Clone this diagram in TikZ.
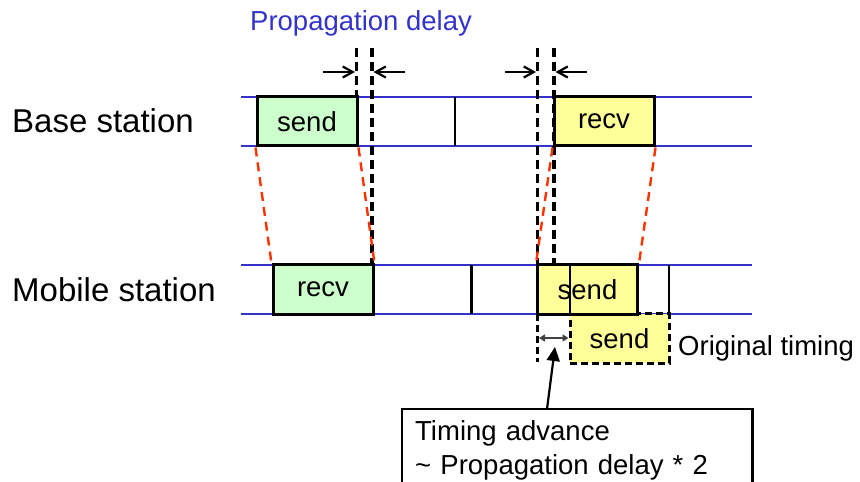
\documentclass[tikz,border=0pt]{standalone}
\usepackage{fontspec}
\setmainfont{Liberation Sans}
\usetikzlibrary{arrows.meta,calc}
\definecolor{lineblue}{HTML}{3333CC}
\definecolor{sigred}{HTML}{FF3300}
\definecolor{sendgreen}{HTML}{CCFFCC}
\definecolor{slotyellow}{HTML}{FFFF99}
\definecolor{tagray}{HTML}{404040}
\newcommand{\bigfont}{\fontsize{33bp}{38bp}\selectfont}
\newcommand{\midfont}{\fontsize{27.5bp}{32bp}\selectfont}
\begin{document}
\begin{tikzpicture}[x=1bp,y=-1bp,
  slotbox/.style={draw=black, line width=3bp, minimum width=100bp, minimum height=49bp, inner sep=0pt, font=\midfont},
  timeline/.style={draw=lineblue, line width=2.6bp},
  guide/.style={draw=black, line width=3.2bp, dash pattern=on 9bp off 5bp},
  signal/.style={draw=sigred, line width=2.4bp, dash pattern=on 9bp off 6bp},
  slotsep/.style={draw=black, line width=2.8bp},
  delayarrow/.style={draw=black, line width=2.2bp, -{Straight Barb[length=10bp,width=11bp]}},
  rowlabel/.style={inner sep=0pt, font=\bigfont},
  plaintext/.style={inner sep=0pt, font=\midfont},
]
\useasboundingbox (0,0) rectangle (860,482);
\clip (0,0) rectangle (860,482);

% time lines
\coordinate (bt1) at (241,97);  \coordinate (bt2) at (752,97);
\coordinate (bb1) at (241,146); \coordinate (bb2) at (752,146);
\coordinate (mt1) at (241,265); \coordinate (mt2) at (752,265);
\coordinate (mb1) at (241,314); \coordinate (mb2) at (752,314);
\draw[timeline] (bt1) -- (bt2);
\draw[timeline] (bb1) -- (bb2);
\draw[timeline] (mt1) -- (mt2);
\draw[timeline] (mb1) -- (mb2);

% row labels
\node[rowlabel, anchor=west] (base) at (12,121) {Base station};
\node[rowlabel, anchor=west] (mobile) at (12,290) {Mobile station};
\node[plaintext, anchor=base west, text=lineblue] (prop) at (250,31) {Propagation delay};

% slot separators
\coordinate (bs1t) at (455,97);  \coordinate (bs1b) at (455,146);
\coordinate (ms1t) at (471.5,265); \coordinate (ms1b) at (471.5,314);
\coordinate (ms2t) at (669,265); \coordinate (ms2b) at (669,314);
\draw[slotsep] (bs1t) -- (bs1b);
\draw[slotsep] (ms1t) -- (ms1b);
\draw[slotsep] (ms2t) -- (ms2b);

% original timing box
\node[slotbox, fill=slotyellow, dash pattern=on 7bp off 4bp, minimum width=99bp] (osend) at (619.5,338.5) {send};
\coordinate (tal1) at (537.5,314); \coordinate (tal2) at (537.5,362);
\draw[black, line width=3bp, dash pattern=on 7bp off 4bp] (tal1) -- (tal2);

% slot boxes
\node[slotbox, fill=sendgreen] (bsend) at (307,121.5) {send};
\node[slotbox, fill=slotyellow] (brecv) at (604,121.5) {recv};
\node[slotbox, fill=sendgreen] (mrecv) at (323,289.5) {recv};
\node[slotbox, fill=slotyellow] (msend) at (587.5,289.5) {send};
\coordinate (mst) at (570,265); \coordinate (msb) at (570,314);
\draw[slotsep] (mst) -- (msb);

% guide lines
\coordinate (g1t) at (356.7,48); \coordinate (g1b) at (356.7,97);
\coordinate (g2t) at (372,48);   \coordinate (g2b) at (372,265);
\coordinate (g3t) at (537.5,48); \coordinate (g3b) at (537.5,265);
\coordinate (g4t) at (554,48);   \coordinate (g4b) at (554,265);
\draw[guide] (g1t) -- (g1b);
\draw[guide] (g2t) -- (g2b);
\draw[guide] (g3t) -- (g3b);
\draw[guide] (g4t) -- (g4b);

% signal paths
\draw[signal] (bsend.south west) -- (mrecv.north west);
\draw[signal] (bsend.south east) -- (mrecv.north east);
\draw[signal] (brecv.south west) -- (msend.north west);
\draw[signal] (brecv.south east) -- (msend.north east);

% propagation delay arrows
\coordinate (a1s) at (323,72); \coordinate (a1e) at (355,72);
\coordinate (a2s) at (405,72); \coordinate (a2e) at (373.5,72);
\coordinate (a3s) at (505,72); \coordinate (a3e) at (536,72);
\coordinate (a4s) at (587,72); \coordinate (a4e) at (555.5,72);
\draw[delayarrow] (a1s) -- (a1e);
\draw[delayarrow] (a2s) -- (a2e);
\draw[delayarrow] (a3s) -- (a3e);
\draw[delayarrow] (a4s) -- (a4e);

% timing advance arrow
\coordinate (ta1) at (539,338); \coordinate (ta2) at (568.5,338);
\draw[tagray, line width=1.4bp, {Triangle[length=6bp,width=7bp]}-{Triangle[length=6bp,width=7bp]}] (ta1) -- (ta2);

\node[plaintext, anchor=base west] (orig) at (678,355) {Original timing};

% explanation box
\node[anchor=north west, inner xsep=13bp, inner ysep=11bp, text width=324bp, align=left, font=\midfont] (tabox) at (402,409)
  {Timing advance\\[2bp]\textasciitilde{} Propagation delay * 2};
\draw[black, line width=2.2bp] ($(tabox.north west)+(0,100)$) -- (tabox.north west) -- (tabox.north east) -- ($(tabox.north east)+(0,100)$);
\coordinate (tafoot) at (547,409);
\coordinate (tatip) at (555,347);
\draw[black, line width=2.2bp, -{Triangle[length=14bp,width=13bp]}] (tafoot) -- (tatip);
\end{tikzpicture}
\end{document}
